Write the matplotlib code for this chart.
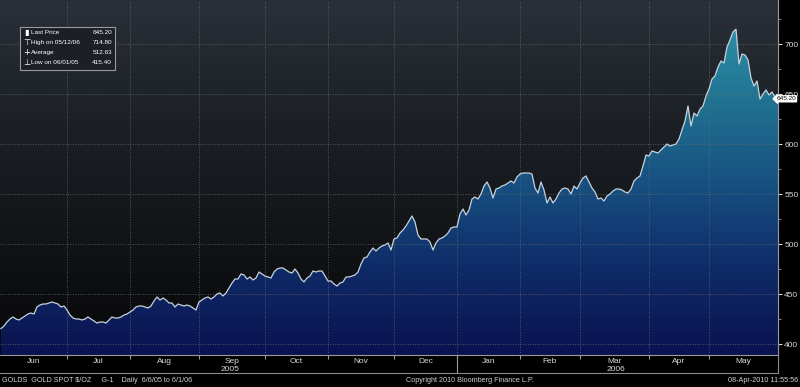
import numpy as np
import pandas as pd
import matplotlib
matplotlib.use("Agg")
from matplotlib import pyplot as plt
from matplotlib.colors import LinearSegmentedColormap
from matplotlib.patches import Polygon, Rectangle
from matplotlib.lines import Line2D
from matplotlib.ticker import MultipleLocator
import matplotlib.transforms as mtrans

plt.rcParams['font.family'] = ['Liberation Sans', 'DejaVu Sans']

# gold spot, daily closes 1 Jun 2005 - 1 Jun 2006
start_date = '2005-06-01'
end_date = '2006-06-01'
holidays = ['2005-12-26', '2006-01-02']

prices = [
    415.4, 418, 422, 425, 427, 425, 424, 426, 428, 430, 431, 430, 437, 439, 440, 440, 441, 442, 441, 440, 437, 438,
    434, 429, 426, 425, 425, 424, 425, 427, 425, 423, 421, 422, 422, 421, 424, 427, 426, 426, 427, 429, 430,
    432, 434, 437, 438, 438, 437, 436, 438, 443, 447, 444, 446, 444, 441, 441, 437, 440, 439, 438, 439, 438, 436, 434,
    442, 444, 446, 447, 445, 447, 450, 451, 448, 451, 456, 461, 465, 465, 470, 469, 465, 467, 464, 466, 472, 470,
    468, 467, 466, 472, 475, 476, 476, 474, 472, 471, 475, 471, 465, 462, 466, 468, 473, 472, 473, 473, 468,
    463, 463, 460, 458, 461, 462, 467, 467, 468, 469, 472, 480, 486, 487, 492, 496, 493, 496, 498, 499, 501, 494,
    505, 506, 511, 514, 518, 523, 528, 522, 509, 505, 505, 505, 502, 494, 501, 505, 506, 508, 511, 516, 517,
    517, 530, 535, 529, 534, 545, 547, 545, 550, 558, 562, 556, 546, 555, 556, 558, 559, 561, 563, 561, 567,
    570, 571, 571, 571, 570, 556, 551, 562, 554, 541, 547, 541, 545, 551, 555, 556, 555, 550, 558, 555,
    561, 566, 568, 562, 556, 552, 545, 546, 543, 548, 550, 553, 555, 555, 554, 552, 551, 555, 563, 566, 568, 578, 589,
    588, 593, 592, 591, 594, 597, 600, 598, 599, 600, 605, 614, 623, 638, 618, 631, 628, 635, 638, 648,
    655, 665, 668, 677, 683, 681, 697, 704, 712, 714.8, 680, 690, 689, 684, 666, 658, 663, 645, 650, 654, 649, 652, 647,
    645.2,
]

month_names = ['Jun', 'Jul', 'Aug', 'Sep', 'Oct', 'Nov', 'Dec', 'Jan', 'Feb', 'Mar', 'Apr', 'May']
y_ticks = [400, 450, 500, 550, 600, 650, 700]

legend_rows = [('Last Price', '645.20'), ('High on 05/12/06', '714.80'),
               ('Average', '512.63'), ('Low on 06/01/05', '415.40')]
last_price = 645.20

footer_left = 'GOLDS  GOLD SPOT $/OZ     G-1    Daily  6/6/05 to 6/1/06'
footer_mid = 'Copyright 2010 Bloomberg Finance L.P.'
footer_right = '08-Apr-2010 11:55:56'

dates = pd.bdate_range(start_date, end_date).drop(pd.to_datetime(holidays))
x = np.arange(len(prices))

W, H = 800, 387
fig = plt.figure(figsize=(W / 100, H / 100), dpi=100, facecolor='black')
ax = fig.add_axes([0, 32 / H, 778 / W, 355 / H])

ymin, ymax = 389, 744
xmin, xmax = -0.33, len(prices) - 1
ax.set_xlim(xmin, xmax)
ax.set_ylim(ymin, ymax)

# background gradient
bg = LinearSegmentedColormap.from_list('bg', ['#070708', '#121417', '#1d2127', '#2a3038'])
grad = np.linspace(0, 1, 256).reshape(-1, 1)
ax.imshow(grad, extent=[xmin, xmax, ymin, ymax], origin='lower', aspect='auto',
          cmap=bg, zorder=0, interpolation='bicubic')

# area under the curve, gradient clipped to the polygon
fillc = LinearSegmentedColormap.from_list(
    'fill', [(0.0, '#0a1250'), (0.25, '#0f2c68'), (0.45, '#164b7e'),
             (0.7, '#207090'), (1.0, '#2f98ae')])
verts = np.column_stack([np.r_[x, x[-1], x[0]], np.r_[prices, ymin, ymin]])
poly = Polygon(verts, closed=True, facecolor='none', edgecolor='none')
ax.add_patch(poly)
img = ax.imshow(grad, extent=[xmin, xmax, ymin, ymax], origin='lower', aspect='auto',
                cmap=fillc, zorder=1, interpolation='bicubic')
img.set_clip_path(poly)

ax.plot(x, prices, color='#c6d3dc', lw=0.9, zorder=4)

# month boundaries
month_idx = [0] + [i for i in range(1, len(dates)) if dates[i].month != dates[i - 1].month]
for b in month_idx[1:-1]:
    ax.axvline(b, color='#6a6a6a', lw=0.6, ls=(0, (1, 2)), zorder=3)
for v in y_ticks:
    ax.axhline(v, color='#6a6a6a', lw=0.6, ls=(0, (1, 2)), zorder=3)

ax.set_xticks(month_idx[1:-1])
ax.set_xticklabels([])
ax.tick_params(axis='x', length=3, color='#9a9a9a', direction='out')

lab_tr = mtrans.blended_transform_factory(ax.transData, ax.transAxes)
centers = []
for k in range(len(month_idx) - 1):
    c = (month_idx[k] + month_idx[k + 1]) / 2
    centers.append(c)
    ax.text(c, -0.019, month_names[k], transform=lab_tr, ha='center', va='center',
            color='#d8d8d8', fontsize=6)
ax.text((centers[0] + centers[6]) / 2, -0.042, '2005', transform=lab_tr, ha='center',
        va='center', color='#d8d8d8', fontsize=6)
ax.text((centers[7] + centers[11]) / 2, -0.042, '2006', transform=lab_tr, ha='center',
        va='center', color='#d8d8d8', fontsize=6)
ax.plot([month_idx[7], month_idx[7]], [0, -0.05], transform=lab_tr, clip_on=False,
        color='#9a9a9a', lw=0.8)

# y axis on the right
ax.yaxis.tick_right()
ax.set_yticks(y_ticks)
ax.yaxis.set_minor_locator(MultipleLocator(25))
ax.tick_params(axis='y', which='major', colors='#d8d8d8', labelsize=6, length=3, pad=1.5)
ax.tick_params(axis='y', which='minor', colors='#9a9a9a', length=2)
for s in ['top', 'left']:
    ax.spines[s].set_visible(False)
ax.spines['right'].set_color('#9a9a9a')
ax.spines['bottom'].set_color('#9a9a9a')
ax.spines['right'].set_linewidth(0.8)
ax.spines['bottom'].set_linewidth(0.8)

# last price tag, drawn over the 650 label as in the terminal view
tag_tr = mtrans.blended_transform_factory(fig.transFigure, ax.transData)
ax.text(796 / W, last_price, '%.2f' % last_price, transform=tag_tr, ha='right', va='center',
        fontsize=4.6, color='black', zorder=6, clip_on=False,
        bbox=dict(boxstyle='larrow,pad=0.08', fc='white', ec='white'))

# frame below the month labels
fig.add_artist(Line2D([0, 778 / W], [1 - 373 / H] * 2, color='#8a8a8a', lw=0.8))
fig.add_artist(Line2D([778 / W] * 2, [1 - 373 / H, 1 - 355 / H], color='#8a8a8a', lw=0.8))

# legend box
fig.add_artist(Rectangle((20 / W, 1 - 70 / H), 95 / W, 43 / H, transform=fig.transFigure,
                         facecolor='#1c2026', edgecolor='#9a9a9a', lw=0.8))
markers = ['\u25AE', '\u22A4', '+', '\u22A5']
for k, (name, val) in enumerate(legend_rows):
    yy = 1 - (32.5 + k * 10) / H
    fig.text(26.5 / W, yy, markers[k], color='white', fontsize=6, ha='center', va='center',
             family='DejaVu Sans')
    fig.text(31 / W, yy, name, color='white', fontsize=4.6, ha='left', va='center')
    fig.text(112 / W, yy, val, color='white', fontsize=4.6, ha='right', va='center')

# footer
fy = 1 - 381 / H
fig.text(2 / W, fy, footer_left, color='#cfcfcf', fontsize=5.2, ha='left', va='center')
fig.text(470 / W, fy, footer_mid, color='#cfcfcf', fontsize=5.2, ha='center', va='center')
fig.text(798 / W, fy, footer_right, color='#cfcfcf', fontsize=5.2, ha='right', va='center')

fig.savefig('out.png', dpi=100, facecolor='black')
